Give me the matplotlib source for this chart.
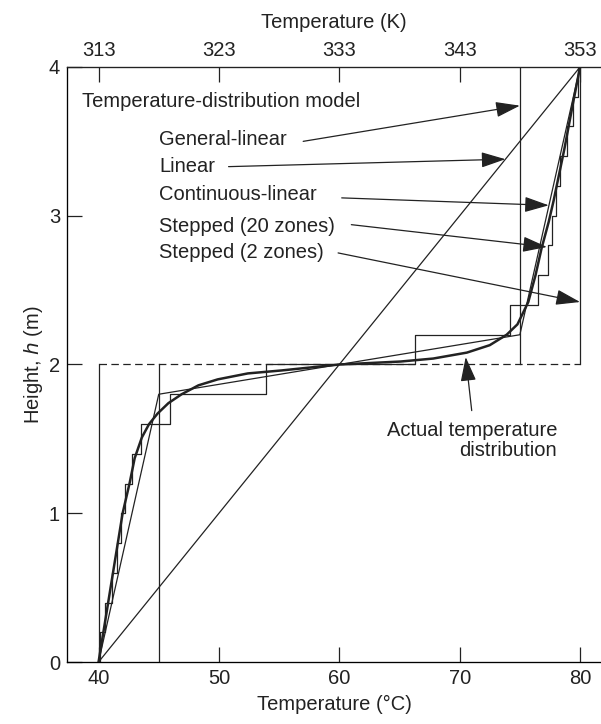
import numpy as np
import matplotlib
matplotlib.use("Agg")
import matplotlib.pyplot as plt

plt.rcParams['font.family'] = ['Liberation Sans', 'DejaVu Sans']

# zone edges (m) and model temperatures (degC)
zone_edges_2 = [0, 2, 4]
stepped_2_temp = [40, 80]
general_temp = [45, 75]

cont_temp = [40, 45, 75, 80]
cont_height = [0, 1.8, 2.2, 4]

zone_edges_20 = [0.2 * k for k in range(21)]
stepped_20_temp = [40.1, 40.5, 41.15, 41.5, 41.9, 42.2, 42.8, 43.5, 45.9, 53.9,
                   66.3, 74.2, 76.5, 77.3, 77.65, 78.0, 78.35, 78.9, 79.4, 79.8]

linear_temp = [40, 80]
linear_height = [0, 4]

actual_temp = [40, 40.4, 40.8, 41.2, 41.6, 42.0, 42.6, 43.0, 43.6, 44.2, 44.9, 45.8,
               46.9, 48.3, 49.9, 52.4, 55.2, 60.0, 65.1, 67.8, 70.6, 72.5, 73.9,
               74.8, 75.7, 76.3, 76.8, 77.4, 77.8, 78.7, 79.4, 80]
actual_height = [0, 0.2, 0.4, 0.6, 0.8, 1.0, 1.21, 1.37, 1.51, 1.60, 1.67, 1.74,
                 1.80, 1.86, 1.90, 1.94, 1.96, 2.0, 2.02, 2.04, 2.08, 2.13, 2.20,
                 2.27, 2.42, 2.60, 2.78, 2.96, 3.10, 3.45, 3.75, 4.0]

c_ticks = [40, 50, 60, 70, 80]
k_labels = ['313', '323', '333', '343', '353']
h_ticks = [0, 1, 2, 3, 4]

# annotation labels: (text, text pos, arrow tail, arrow tip)
notes = [
    ("General-linear", (45.05, 3.51), (57.0, 3.50), (75.0, 3.74)),
    ("Linear", (45.05, 3.33), (50.8, 3.33), (73.8, 3.38)),
    ("Continuous-linear", (45.05, 3.14), (60.2, 3.12), (77.4, 3.07)),
    ("Stepped (20 zones)", (45.05, 2.93), (61.0, 2.94), (77.25, 2.79)),
    ("Stepped (2 zones)", (45.05, 2.75), (59.9, 2.75), (80.0, 2.42)),
]

ink = '#222222'
fs = 14.5

fig = plt.figure(figsize=(6.01, 7.24), dpi=100)
ax = fig.add_axes([0.1115, 0.0856, 0.8885, 0.8219])

thin = dict(color=ink, lw=0.9)

# linear
ax.plot(linear_temp, linear_height, **thin)
# stepped 2 zones
ax.plot([stepped_2_temp[0]] * 2, zone_edges_2[0:2], **thin)
ax.plot([stepped_2_temp[1]] * 2, zone_edges_2[1:3], **thin)
ax.plot(stepped_2_temp, [zone_edges_2[1]] * 2, color=ink, lw=0.9, ls=(0, (6, 3.5)))
# general-linear
ax.plot([general_temp[0]] * 2, zone_edges_2[0:2], **thin)
ax.plot([general_temp[1]] * 2, zone_edges_2[1:3], **thin)
# continuous-linear
ax.plot(cont_temp, cont_height, **thin)
# stepped 20 zones
sx = np.repeat(stepped_20_temp, 2)
sy = np.repeat(zone_edges_20, 2)[1:-1]
ax.plot(sx, sy, **thin)
# actual
ax.plot(actual_temp, actual_height, color=ink, lw=1.8, solid_capstyle='round',
        solid_joinstyle='round')

arrow = dict(arrowstyle='-|>,head_length=1.0,head_width=0.32', color=ink, lw=0.9,
             mutation_scale=15, shrinkA=0, shrinkB=0)
ax.text(38.63, 3.77, "Temperature-distribution model", fontsize=fs, color=ink,
        va='center', ha='left')
for label, tpos, tail, tip in notes:
    ax.text(tpos[0], tpos[1], label, fontsize=fs, color=ink, va='center', ha='left')
    ax.annotate('', xy=tip, xytext=tail, arrowprops=arrow)

ax.annotate('', xy=(70.5, 2.05), xytext=(71.0, 1.69), arrowprops=arrow)
ax.text(78.1, 1.49, "Actual temperature\ndistribution", fontsize=fs, color=ink,
        ha='right', va='center', multialignment='right', linespacing=1.05)

ax.set_xlim(37.38, 81.74)
ax.set_ylim(0, 4)
ax.set_xticks(c_ticks)
ax.set_yticks(h_ticks)
ax.tick_params(direction='in', length=11, width=0.9, colors=ink, labelsize=fs, pad=5)
ax.tick_params(axis='y', pad=5)
for side in ['left', 'bottom', 'top']:
    ax.spines[side].set_color(ink)
    ax.spines[side].set_linewidth(0.9)
ax.spines['right'].set_visible(False)
ax.set_xlabel("Temperature (°C)", fontsize=fs, color=ink, labelpad=5)
ax.set_ylabel("Height, $\\it{h}$ (m)", fontsize=fs, color=ink, labelpad=3)

top = ax.twiny()
top.set_xlim(ax.get_xlim())
top.set_xticks(c_ticks)
top.set_xticklabels(k_labels)
top.tick_params(direction='in', length=11, width=0.9, colors=ink, labelsize=fs, pad=5)
top.spines['right'].set_visible(False)
top.spines['top'].set_color(ink)
top.xaxis.set_label_coords(0.51, 1.065)
top.set_xlabel("Temperature (K)", fontsize=fs, color=ink)

fig.savefig("out.png", dpi=100)
